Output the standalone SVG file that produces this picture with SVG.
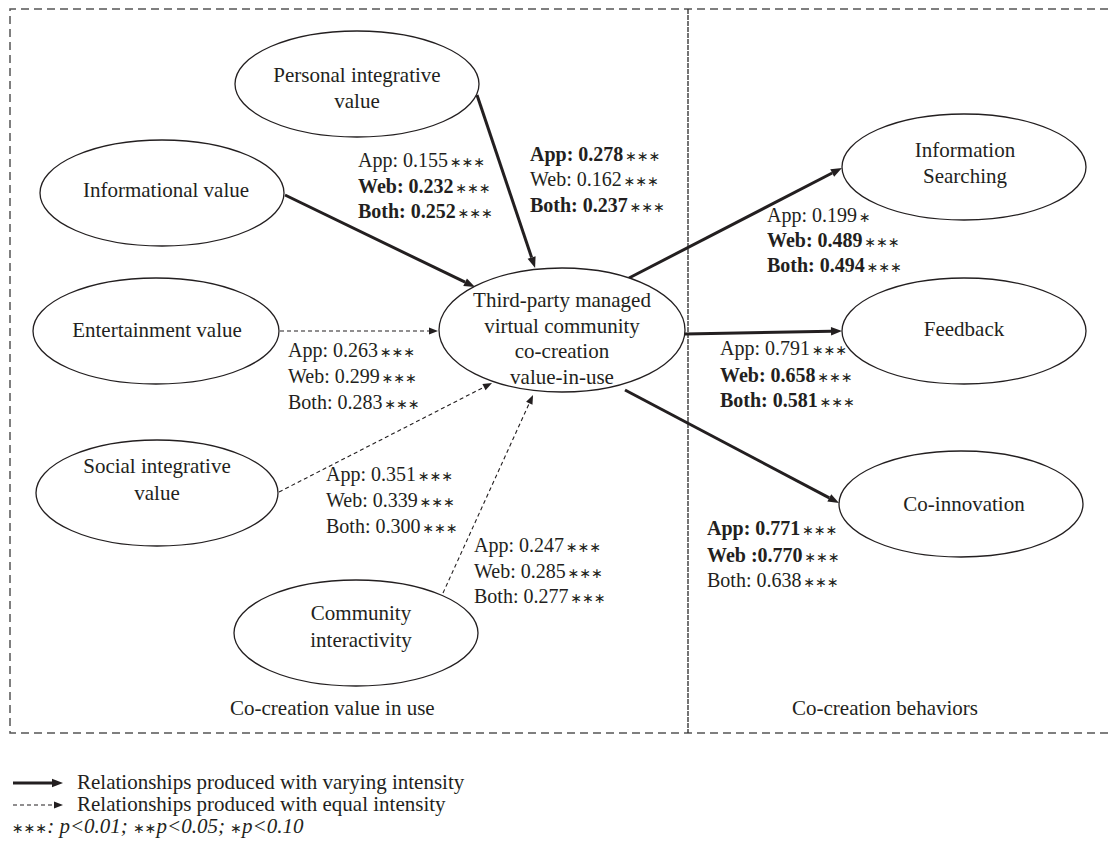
<svg xmlns="http://www.w3.org/2000/svg" width="1108" height="854" viewBox="0 0 1108 854">
  <style>
    text { font-family: "Liberation Serif", "Times New Roman", serif; fill: #231f20; }
    .node { font-size: 21px; text-anchor: middle; }
    .lbl { font-size: 20px; }
    .b { font-weight: bold; }
    .ast { font-family: "DejaVu Sans", sans-serif; font-size: 14px; font-weight: normal; font-style: normal; }
    .region { font-size: 21px; }
    .legend { font-size: 21px; }
    .note { font-size: 21px; font-style: italic; }
    ellipse { fill: #ffffff; stroke: #231f20; stroke-width: 1.3; }
    .border { fill: none; stroke: #555555; stroke-width: 1.5; stroke-dasharray: 8 5; }
    .divider { fill: none; stroke: #2a2a2a; stroke-width: 1.3; stroke-dasharray: 5 1; }
    .strong { fill: none; stroke: #231f20; stroke-width: 3; marker-end: url(#headSolid); }
    .equal { fill: none; stroke: #231f20; stroke-width: 1.1; stroke-dasharray: 4 3; marker-end: url(#headDash); }
  </style>
  <defs>
    <marker id="headSolid" markerUnits="userSpaceOnUse" markerWidth="12" markerHeight="10" refX="0" refY="5" orient="auto" overflow="visible">
      <path d="M0,0.8 L11,5 L0,9.2 Z" fill="#231f20"/>
    </marker>
    <marker id="headDash" markerUnits="userSpaceOnUse" markerWidth="10" markerHeight="8" refX="0" refY="4" orient="auto" overflow="visible">
      <path d="M0,0.5 L9,4 L0,7.5 Z" fill="#231f20"/>
    </marker>
  </defs>

  <!-- panel frames -->
  <g id="frames">
    <path class="border" d="M1108,9 H10 V733 H1108"/>
    <path class="divider" d="M688,9 V733"/>
  </g>

  <!-- connectors -->
  <g id="connectors">
    <path class="strong" d="M285,195 L465.1,282.2"/>
    <path class="strong" d="M477,95 L531.6,257.5"/>
    <path class="equal" d="M280,331 L429,331"/>
    <path class="equal" d="M279,492 L484,387.1"/>
    <path class="equal" d="M443,593 L529.3,403.2"/>
    <path class="strong" d="M629,278 L832.2,173"/>
    <path class="strong" d="M685,334 L831,331.2"/>
    <path class="strong" d="M625,390 L829.3,497.9"/>
  </g>

  <!-- nodes -->
  <g id="personal-integrative-value">
    <ellipse cx="357" cy="84" rx="122" ry="53"/>
    <text class="node" x="357" y="82">Personal integrative</text>
    <text class="node" x="357" y="108">value</text>
  </g>
  <g id="informational-value">
    <ellipse cx="162" cy="193" rx="122" ry="53"/>
    <text class="node" x="166" y="197">Informational value</text>
  </g>
  <g id="entertainment-value">
    <ellipse cx="156" cy="331" rx="123" ry="53"/>
    <text class="node" x="157" y="337">Entertainment value</text>
  </g>
  <g id="social-integrative-value">
    <ellipse cx="157" cy="493" rx="121" ry="53"/>
    <text class="node" x="157" y="473">Social integrative</text>
    <text class="node" x="157" y="500">value</text>
  </g>
  <g id="community-interactivity">
    <ellipse cx="356" cy="633" rx="122" ry="53"/>
    <text class="node" x="361" y="620">Community</text>
    <text class="node" x="361" y="647">interactivity</text>
  </g>
  <g id="value-in-use">
    <ellipse cx="562" cy="330" rx="123" ry="62"/>
    <text class="node" x="562" y="307">Third-party managed</text>
    <text class="node" x="562" y="333">virtual community</text>
    <text class="node" x="562" y="358">co-creation</text>
    <text class="node" x="562" y="384">value-in-use</text>
  </g>
  <g id="information-searching">
    <ellipse cx="964" cy="167" rx="122" ry="53"/>
    <text class="node" x="965" y="157">Information</text>
    <text class="node" x="965" y="183">Searching</text>
  </g>
  <g id="feedback">
    <ellipse cx="964" cy="331" rx="122" ry="53"/>
    <text class="node" x="964" y="336">Feedback</text>
  </g>
  <g id="co-innovation">
    <ellipse cx="961" cy="504" rx="122" ry="53"/>
    <text class="node" x="964" y="511">Co-innovation</text>
  </g>

  <!-- path coefficients -->
  <g id="coefficients">
    <text class="lbl" x="358" y="167">App: 0.155<tspan class="ast" dx="2">∗∗∗</tspan></text>
    <text class="lbl" x="358" y="193"><tspan class="b">Web: 0.232</tspan><tspan class="ast" dx="2">∗∗∗</tspan></text>
    <text class="lbl" x="358" y="218"><tspan class="b">Both: 0.252</tspan><tspan class="ast" dx="2">∗∗∗</tspan></text>

    <text class="lbl" x="530" y="161"><tspan class="b">App: 0.278</tspan><tspan class="ast" dx="2">∗∗∗</tspan></text>
    <text class="lbl" x="530" y="186">Web: 0.162<tspan class="ast" dx="2">∗∗∗</tspan></text>
    <text class="lbl" x="530" y="212"><tspan class="b">Both: 0.237</tspan><tspan class="ast" dx="2">∗∗∗</tspan></text>

    <text class="lbl" x="288" y="357">App: 0.263<tspan class="ast" dx="2">∗∗∗</tspan></text>
    <text class="lbl" x="288" y="383">Web: 0.299<tspan class="ast" dx="2">∗∗∗</tspan></text>
    <text class="lbl" x="288" y="409">Both: 0.283<tspan class="ast" dx="2">∗∗∗</tspan></text>

    <text class="lbl" x="326" y="481">App: 0.351<tspan class="ast" dx="2">∗∗∗</tspan></text>
    <text class="lbl" x="326" y="507">Web: 0.339<tspan class="ast" dx="2">∗∗∗</tspan></text>
    <text class="lbl" x="326" y="533">Both: 0.300<tspan class="ast" dx="2">∗∗∗</tspan></text>

    <text class="lbl" x="474" y="552">App: 0.247<tspan class="ast" dx="2">∗∗∗</tspan></text>
    <text class="lbl" x="474" y="578">Web: 0.285<tspan class="ast" dx="2">∗∗∗</tspan></text>
    <text class="lbl" x="474" y="603">Both: 0.277<tspan class="ast" dx="2">∗∗∗</tspan></text>

    <text class="lbl" x="767" y="222">App: 0.199<tspan class="ast" dx="2">∗</tspan></text>
    <text class="lbl" x="767" y="247"><tspan class="b">Web: 0.489</tspan><tspan class="ast" dx="2">∗∗∗</tspan></text>
    <text class="lbl" x="767" y="272"><tspan class="b">Both: 0.494</tspan><tspan class="ast" dx="2">∗∗∗</tspan></text>

    <text class="lbl" x="720" y="355">App: 0.791<tspan class="ast" dx="2">∗∗∗</tspan></text>
    <text class="lbl" x="720" y="382"><tspan class="b">Web: 0.658</tspan><tspan class="ast" dx="2">∗∗∗</tspan></text>
    <text class="lbl" x="720" y="407"><tspan class="b">Both: 0.581</tspan><tspan class="ast" dx="2">∗∗∗</tspan></text>

    <text class="lbl" x="707" y="535"><tspan class="b">App: 0.771</tspan><tspan class="ast" dx="2">∗∗∗</tspan></text>
    <text class="lbl" x="707" y="562"><tspan class="b">Web :0.770</tspan><tspan class="ast" dx="2">∗∗∗</tspan></text>
    <text class="lbl" x="707" y="587">Both: 0.638<tspan class="ast" dx="2">∗∗∗</tspan></text>
  </g>

  <!-- panel titles -->
  <g id="panel-titles">
    <text class="region" x="230" y="715">Co-creation value in use</text>
    <text class="region" x="792" y="715">Co-creation behaviors</text>
  </g>

  <!-- legend -->
  <g id="legend">
    <path class="strong" d="M13,783 L52,783"/>
    <text class="legend" x="77" y="789">Relationships produced with varying intensity</text>
    <path class="equal" d="M13,805 L54,805"/>
    <text class="legend" x="77" y="811">Relationships produced with equal intensity</text>
    <text class="note" x="12" y="833"><tspan class="ast">∗∗∗</tspan>: p&lt;0.01; <tspan class="ast">∗∗</tspan>p&lt;0.05; <tspan class="ast">∗</tspan>p&lt;0.10</text>
  </g>
</svg>
